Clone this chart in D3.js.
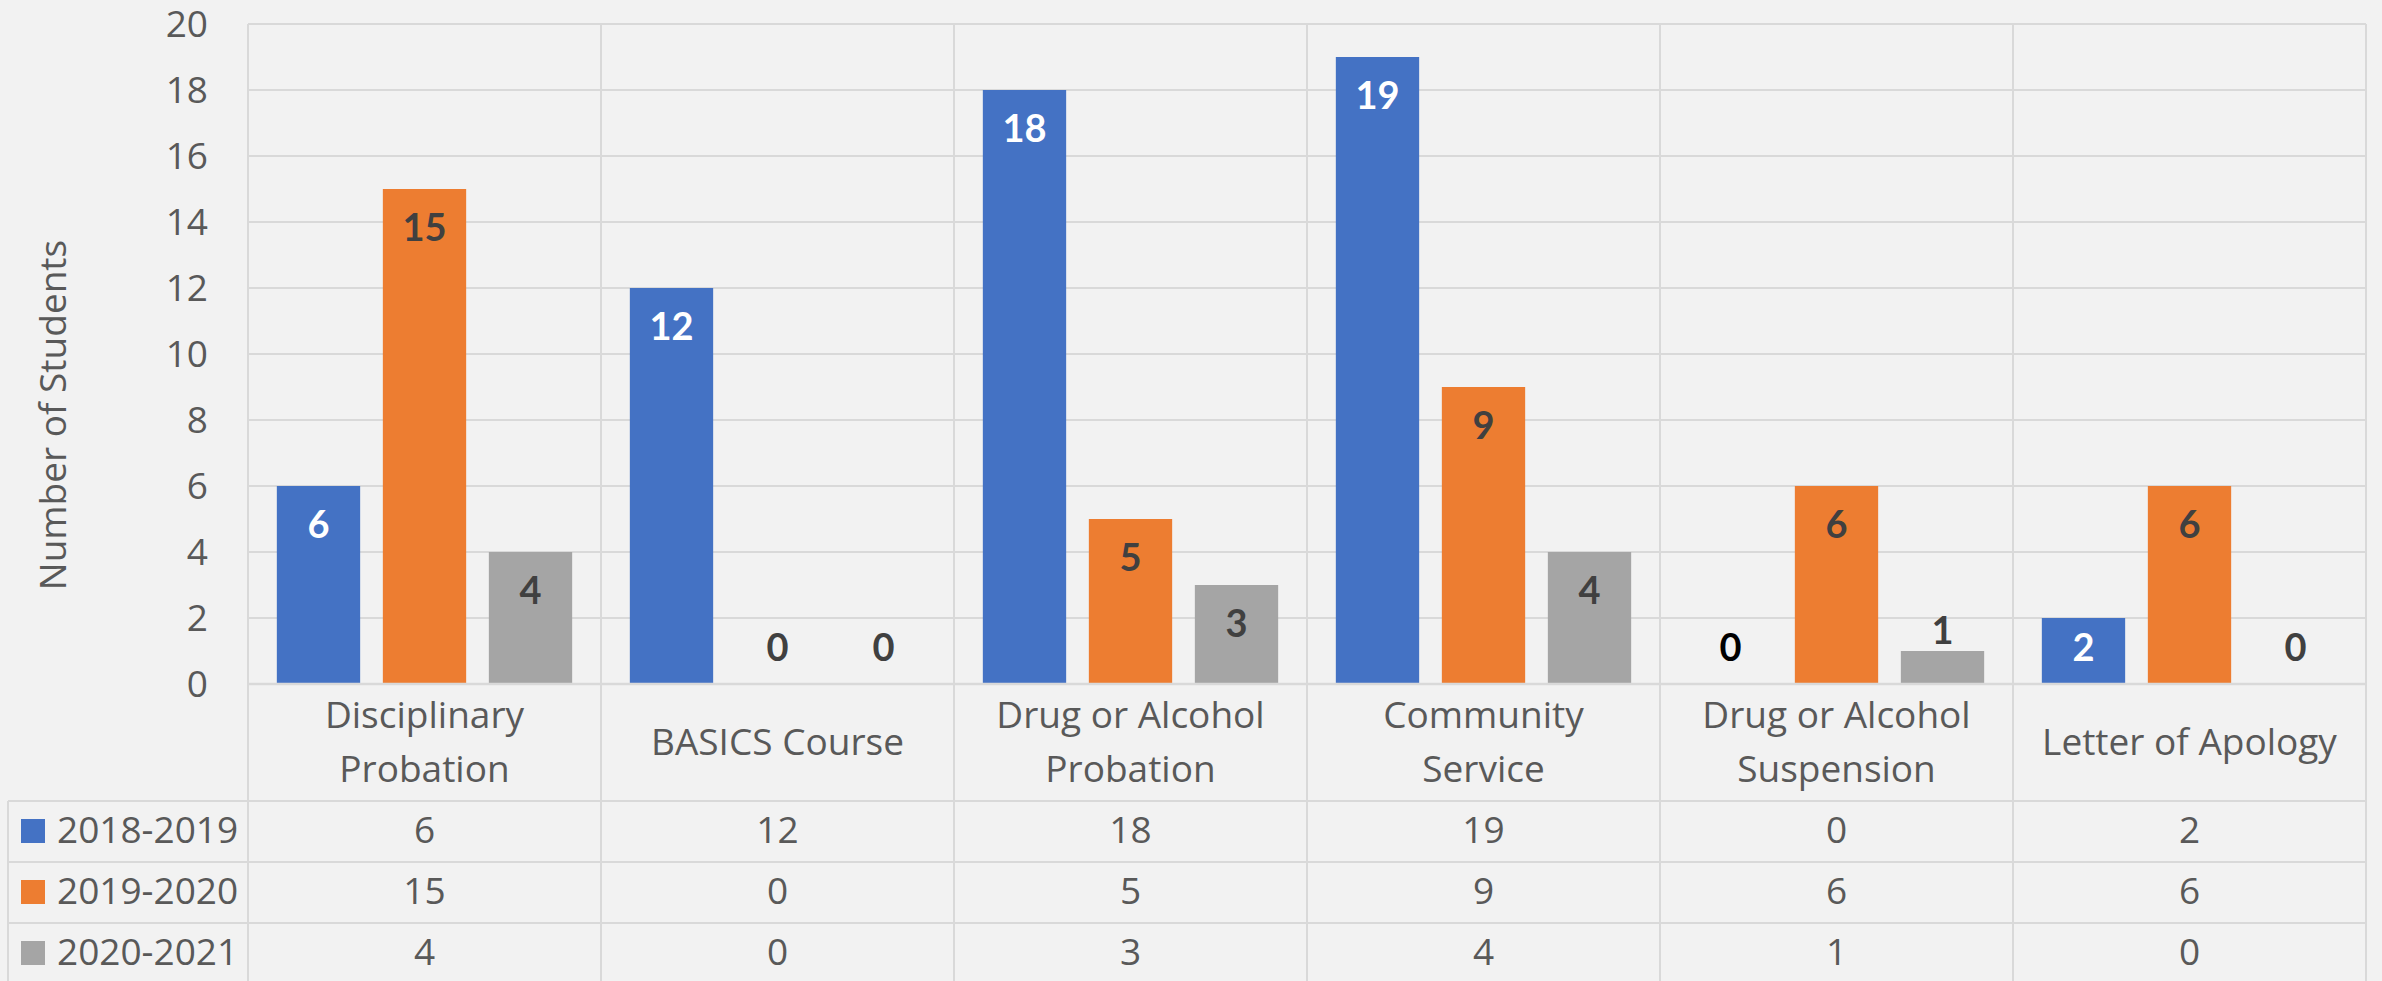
<!DOCTYPE html>
<html>
<head>
<meta charset="utf-8">
<script src="https://cdn.jsdelivr.net/npm/d3@7"></script>
<style>
  html, body { margin: 0; padding: 0; background: #f2f2f2; }
  svg { display: block; font-family: "Open Sans", sans-serif; }
  .lbl { font-family: Lato, sans-serif; }
</style>
</head>
<body>
<div id="chart"></div>
<script>
var categories = [
    ["Disciplinary", "Probation"],
    ["BASICS Course"],
    ["Drug or Alcohol", "Probation"],
    ["Community", "Service"],
    ["Drug or Alcohol", "Suspension"],
    ["Letter of Apology"]
];
var seriesNames = ["2018-2019", "2019-2020", "2020-2021"];
var values2018 = [6, 12, 18, 19, 0, 2];
var values2019 = [15, 0, 5, 9, 6, 6];
var values2020 = [4, 0, 3, 4, 1, 0];
var yTicks = [0, 2, 4, 6, 8, 10, 12, 14, 16, 18, 20];
var colors = ["#4472c4", "#ed7d31", "#a5a5a5"];

(function() {
    var W = 2382, H = 981;
    var plot = { left: 248, right: 2366, top: 24, bottom: 684 },
        tableLeft = 8,
        headerBottom = 801,
        rowH = 61;
    var gridColor = "#d9d9d9",
        textColor = "#595959",
        fs = 37;

    var series = [values2018, values2019, values2020];
    var catIdx = d3.range(categories.length);

    var svg = d3.select("#chart").append("svg")
        .attr("width", W)
        .attr("height", H);

    svg.append("rect").attr("width", W).attr("height", H).attr("fill", "#f2f2f2");

    var x0 = d3.scaleBand().domain(catIdx).range([plot.left, plot.right]);
    var x1 = d3.scaleBand().domain(d3.range(series.length))
        .range([0, x0.bandwidth()])
        .paddingInner(0.214)
        .paddingOuter(0.272);
    var y = d3.scaleLinear().domain([0, 20]).range([plot.bottom, plot.top]);

    // horizontal gridlines
    svg.append("g").selectAll("line").data(yTicks).enter().append("line")
        .attr("x1", plot.left).attr("x2", plot.right)
        .attr("y1", d => y(d)).attr("y2", d => y(d))
        .attr("stroke", gridColor).attr("stroke-width", 2);

    // y tick labels
    svg.append("g").selectAll("text").data(yTicks).enter().append("text")
        .attr("x", 208).attr("y", d => y(d))
        .attr("dy", "0.36em")
        .attr("text-anchor", "end")
        .attr("font-size", fs).attr("fill", textColor)
        .text(d => d);

    // y axis title
    svg.append("text")
        .attr("transform", "translate(53,415) rotate(-90)")
        .attr("text-anchor", "middle")
        .attr("dy", "0.36em")
        .attr("font-size", fs).attr("fill", textColor)
        .text("Number of Students");

    var tableBottom = headerBottom + rowH * series.length;

    // vertical dividers (plot + table)
    var edges = catIdx.map(i => x0(i)).concat([plot.right]);
    svg.append("g").selectAll("line").data(edges).enter().append("line")
        .attr("x1", d => d).attr("x2", d => d)
        .attr("y1", plot.top).attr("y2", tableBottom + 10)
        .attr("stroke", gridColor).attr("stroke-width", 2);

    svg.append("line")
        .attr("x1", tableLeft).attr("x2", tableLeft)
        .attr("y1", headerBottom).attr("y2", tableBottom + 10)
        .attr("stroke", gridColor).attr("stroke-width", 2);

    // table row lines
    var rowLines = d3.range(series.length).map(i => headerBottom + i * rowH);
    svg.append("g").selectAll("line").data(rowLines).enter().append("line")
        .attr("x1", tableLeft).attr("x2", plot.right)
        .attr("y1", d => d).attr("y2", d => d)
        .attr("stroke", gridColor).attr("stroke-width", 2);

    // bars
    var groups = svg.append("g").selectAll("g").data(series).enter().append("g")
        .attr("fill", (d, s) => colors[s]);

    groups.each(function(vals, s) {
        d3.select(this).selectAll("rect").data(vals).enter().append("rect")
            .attr("x", (d, i) => x0(i) + x1(s))
            .attr("y", d => y(d))
            .attr("width", x1.bandwidth())
            .attr("height", d => y(0) - y(d));
    });

    // base line
    svg.append("line")
        .attr("x1", plot.left).attr("x2", plot.right)
        .attr("y1", y(0)).attr("y2", y(0))
        .attr("stroke", gridColor).attr("stroke-width", 2.5);

    // data labels
    function labelY(v) {
        var top = y(v), h = y(0) - top;
        if (v === 0) return y(0) - 37;
        if (h < 60) return top - 21;
        return Math.min(top + 38, y(0) - 37);
    }
    series.forEach(function(vals, s) {
        svg.append("g").selectAll("text").data(vals).enter().append("text")
            .attr("class", "lbl")
            .attr("x", (d, i) => x0(i) + x1(s) + x1.bandwidth() / 2)
            .attr("y", d => labelY(d))
            .attr("dy", "0.36em")
            .attr("text-anchor", "middle")
            .attr("font-size", 38).attr("font-weight", "bold")
            .attr("fill", d => s === 0 ? (d === 0 ? "#000" : "#fff") : "#404040")
            .text(d => d);
    });

    // category labels
    categories.forEach(function(lines, i) {
        var cx = x0(i) + x0.bandwidth() / 2;
        var t = svg.append("text")
            .attr("text-anchor", "middle")
            .attr("font-size", fs).attr("fill", textColor);
        var startY = lines.length === 1 ? 755 : 728;
        lines.forEach(function(l, k) {
            t.append("tspan").attr("x", cx).attr("y", startY + k * 54).text(l);
        });
    });

    // table rows: legend keys, names, values
    series.forEach(function(vals, s) {
        var top = headerBottom + s * rowH;
        svg.append("rect")
            .attr("x", 21).attr("y", top + 18)
            .attr("width", 24).attr("height", 24)
            .attr("fill", colors[s]);
        svg.append("text")
            .attr("x", 57).attr("y", top + 42)
            .attr("font-size", fs).attr("fill", textColor)
            .text(seriesNames[s]);
        svg.append("g").selectAll("text").data(vals).enter().append("text")
            .attr("x", (d, i) => x0(i) + x0.bandwidth() / 2)
            .attr("y", top + 42)
            .attr("text-anchor", "middle")
            .attr("font-size", fs).attr("fill", textColor)
            .text(d => d);
    });
})();
</script>
</body>
</html>
